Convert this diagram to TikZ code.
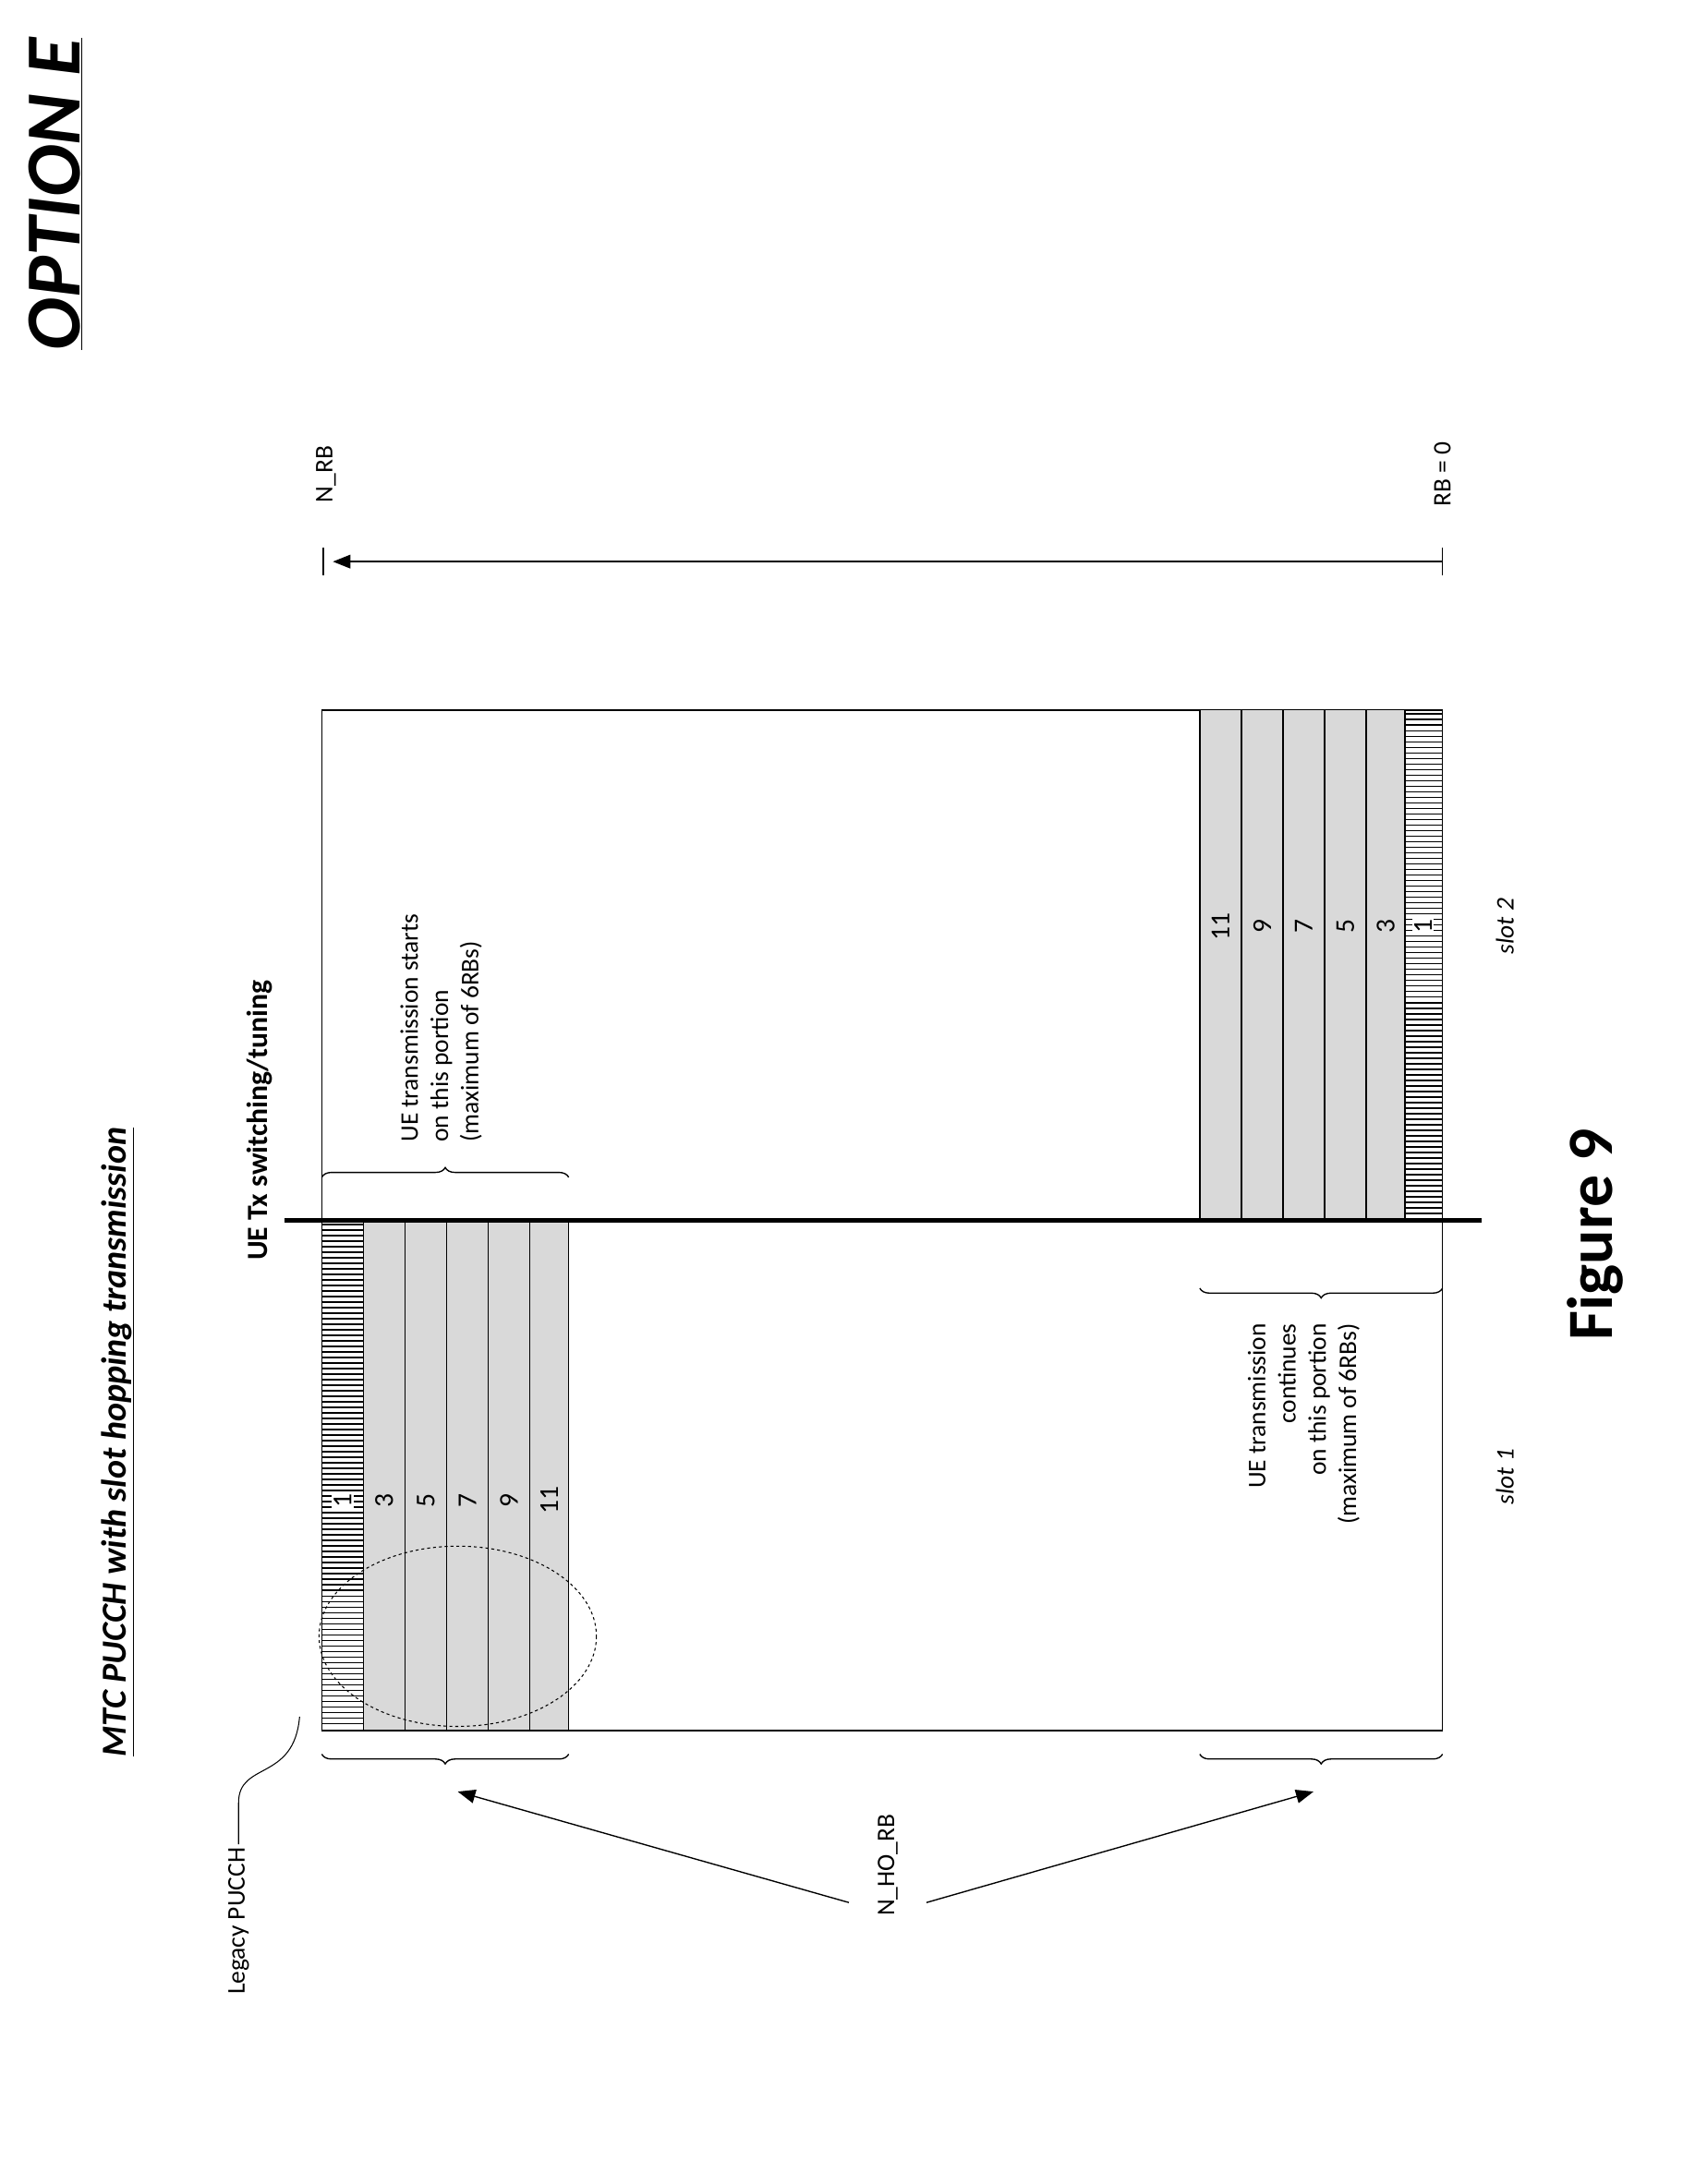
\documentclass[tikz,border=0pt]{standalone}
\usepackage{fontspec}
\setmainfont{Carlito}
\usetikzlibrary{decorations.pathreplacing,arrows.meta,patterns}
\begin{document}
\begin{tikzpicture}[x=0.05cm,y=-0.05cm,
  cell/.style={draw,line width=1.2pt,fill=gray!30},
  hat/.style={draw,line width=1.2pt},
  num/.style={rotate=90,font=\fontsize{28}{32}\selectfont},
  lbl/.style={rotate=90,font=\fontsize{26}{31}\selectfont,align=center},
  br/.style={decorate,decoration={brace,amplitude=10pt},line width=1.3pt},
  arr/.style={line width=1.3pt,-{Triangle[length=18pt,width=14pt]}}]
\useasboundingbox (0,0) rectangle (1213,1575);
\draw[line width=1.3pt] (232,512) rectangle (1040,1248);
% slot 1 cells
\foreach \a/\n [count=\i] in {262/3,292/5,322/7,352/9,382/11}{
  \pgfmathsetmacro\b{\a+(\i==5?28:30)}
  \draw[cell] (\a,880) rectangle (\b,1248);
  \node[num] at ({(\a+\b)/2},1082) {\n};
}
\draw[hat] (232,880) rectangle (262,1248);
\foreach \y in {883,887,...,1246} \draw[line width=1.6pt] (232,\y) -- (262,\y);
\node[num,fill=white,inner sep=2pt] at (247,1082) {1};
% slot 2 cells
\foreach \a/\n [count=\i] in {865/11,895/9,925/7,955/5,985/3}{
  \pgfmathsetmacro\b{\a+(\i==5?28:30)}
  \draw[cell] (\a,512) rectangle (\b,880);
  \node[num] at ({(\a+\b)/2},668) {\n};
}
\draw[hat] (1013,512) rectangle (1040,880);
\foreach \y in {515,519,...,878} \draw[line width=1.6pt] (1013,\y) -- (1040,\y);
\node[num,fill=white,inner sep=2pt] at (1026,668) {1};
\draw[line width=5pt] (205,880) -- (1068,880);
\draw[dashed,line width=1pt] (330,1180) ellipse [x radius=100,y radius=65];
% braces
\draw[br] (410,1265) -- (232,1265);
\draw[br] (1040,1265) -- (865,1265);
\draw[br] (232,849) -- (410,849);
\draw[br] (1040,929) -- (865,929);
\coordinate (t1) at (330,1292);
\coordinate (t2) at (947,1292);
\node[lbl] (nho) at (640,1345) {N\_HO\_RB};
\draw[arr] (612,1372) -- (t1);
\draw[arr] (668,1372) -- (t2);
\node[lbl,anchor=east] (leg) at (172,1330) {Legacy PUCCH};
\draw[line width=1pt] (leg.east) -- (172,1300) .. controls (172,1270) and (212,1285) .. (216,1238);
\node[lbl,align=left,anchor=west] at (318,826) {UE transmission starts\\on this portion\\(maximum of 6RBs)};
\node[lbl,align=right,anchor=east] at (940,952) {UE transmission\\continues\\on this portion\\(maximum of 6RBs)};
\node[lbl,font=\itshape\fontsize{26}{31}\selectfont] at (1085,1065) {slot 1};
\node[lbl,font=\itshape\fontsize{26}{31}\selectfont] at (1085,668) {slot 2};
\node[rotate=90,font=\bfseries\fontsize{30}{36}\selectfont] at (187,808) {UE Tx switching/tuning};
\node[rotate=90,font=\bfseries\itshape\fontsize{36}{42}\selectfont] at (85,1040) {\underline{MTC PUCCH with slot hopping transmission}};
\node[rotate=90,font=\bfseries\itshape\fontsize{80}{90}\selectfont] at (40,140) {\underline{OPTION E}};
\node[rotate=90,font=\bfseries\fontsize{66}{72}\selectfont] at (1150,890) {Figure 9};
\node[lbl] (nrb) at (235,342) {N\_RB};
\node[lbl] (rb0) at (1040,342) {RB = 0};
\draw[arr] (1040,405) -- (240,405);
\draw[line width=1.3pt] (233,395) -- (233,415) (1040,395) -- (1040,415);
\end{tikzpicture}
\end{document}
